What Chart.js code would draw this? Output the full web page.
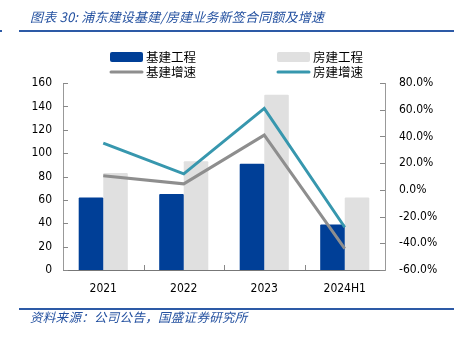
<!DOCTYPE html>
<html>
<head>
<meta charset="utf-8">
<script src="https://cdn.jsdelivr.net/npm/chart.js@4"></script>
<style>
  html, body { margin: 0; padding: 0; background: #fff; }
  #wrap { position: relative; width: 454px; height: 341px; overflow: hidden; }
  #chart { position: absolute; left: 0; top: 0; }
  .cap { position: absolute; left: 30px; white-space: nowrap; font-family: "Noto Sans CJK SC", sans-serif; font-style: italic; color: #2451a0; line-height: 18px; }
  #title { top: 8px; font-size: 13px; letter-spacing: 0.2px; }
  #source { top: 308px; font-size: 12.5px; letter-spacing: 0.3px; }
  .rule { position: absolute; left: 19px; right: 0; background: #2d5aa6; }
  #rule1 { top: 30px; height: 2px; }
  #rule2 { top: 308px; height: 2px; }
  #dot { position: absolute; left: 0; top: 30px; width: 2px; height: 2px; background: #2d5aa6; }
</style>
</head>
<body>
<div id="wrap">
  <canvas id="chart" width="454" height="341"></canvas>
  <div id="title" class="cap">图表 30: 浦东建设基建/房建业务新签合同额及增速</div>
  <div id="dot"></div>
  <div id="rule1" class="rule"></div>
  <div id="rule2" class="rule"></div>
  <div id="source" class="cap">资料来源：公司公告，国盛证券研究所</div>
</div>
<script>
// 新签合同额（亿元）与同比增速（%）
const categories = ['2021', '2022', '2023', '2024H1'];
const infraAmount = [62, 65, 91, 39];        // 基建工程
const buildingAmount = [83, 93, 150, 62];    // 房建工程
const infraGrowth = [10.5, 4.5, 41, -44];    // 基建增速
const buildingGrowth = [35, 12, 61, -28];    // 房建增速

const tickFont = { family: "'DejaVu Sans Condensed', 'Liberation Sans', sans-serif", size: 12 };

// 两列两行的图例
const gridLegend = {
  id: 'gridLegend',
  afterDraw(chart) {
    const ctx = chart.ctx;
    const cols = [110, 277];
    const rows = [57, 72];
    ctx.save();
    ctx.font = "12.5px 'Noto Sans CJK SC', sans-serif";
    ctx.textBaseline = 'middle';
    ctx.textAlign = 'left';
    chart.data.datasets.forEach((ds, i) => {
      const x = cols[i % 2], y = rows[Math.floor(i / 2)];
      if (ds.type === 'line') {
        ctx.strokeStyle = ds.borderColor;
        ctx.lineWidth = 3;
        ctx.lineCap = 'round';
        ctx.beginPath();
        ctx.moveTo(x + 1, y);
        ctx.lineTo(x + 32, y);
        ctx.stroke();
      } else {
        ctx.fillStyle = ds.backgroundColor;
        ctx.beginPath();
        ctx.roundRect(x, y - 5, 33, 10, 2);
        ctx.fill();
      }
      ctx.fillStyle = '#000';
      ctx.fillText(ds.label, x + 36, y + 0.5);
    });
    ctx.restore();
  }
};

// 向内的刻度线
const innerTicks = {
  id: 'innerTicks',
  afterDraw(chart) {
    const ctx = chart.ctx;
    const { x, y, y1 } = chart.scales;
    ctx.save();
    ctx.lineWidth = 1;
    ctx.strokeStyle = '#888';
    ctx.beginPath();
    y.ticks.forEach(t => {
      const py = Math.round(y.getPixelForValue(t.value)) + 0.5;
      ctx.moveTo(y.right, py); ctx.lineTo(y.right + 5, py);
    });
    y1.ticks.forEach(t => {
      const py = Math.round(y1.getPixelForValue(t.value)) + 0.5;
      ctx.moveTo(y1.left, py); ctx.lineTo(y1.left - 5, py);
    });
    for (let i = 0; i < categories.length - 1; i++) {
      const px = Math.round((x.getPixelForValue(i) + x.getPixelForValue(i + 1)) / 2) + 0.5;
      ctx.moveTo(px, x.top); ctx.lineTo(px, x.top - 5);
    }
    ctx.stroke();
    ctx.restore();
  }
};

new Chart(document.getElementById('chart'), {
  data: {
    labels: categories,
    datasets: [
      { type: 'bar', label: '基建工程', data: infraAmount, backgroundColor: '#003f97', yAxisID: 'y', order: 2,
        categoryPercentage: 0.61, barPercentage: 1.0, borderRadius: 1 },
      { type: 'bar', label: '房建工程', data: buildingAmount, backgroundColor: '#e0e0e0', yAxisID: 'y', order: 2,
        categoryPercentage: 0.61, barPercentage: 1.0, borderRadius: 1 },
      { type: 'line', label: '基建增速', data: infraGrowth, borderColor: '#8e8e8e', backgroundColor: '#8e8e8e',
        borderWidth: 3, pointRadius: 0, tension: 0, yAxisID: 'y1', order: 1 },
      { type: 'line', label: '房建增速', data: buildingGrowth, borderColor: '#3797ae', backgroundColor: '#3797ae',
        borderWidth: 3, pointRadius: 0, tension: 0, yAxisID: 'y1', order: 0 }
    ]
  },
  options: {
    responsive: false,
    animation: false,
    layout: { padding: { top: 83, left: 0, right: 0, bottom: 0 } },
    plugins: { legend: { display: false }, tooltip: { enabled: false }, title: { display: false } },
    scales: {
      x: {
        offset: true,
        grid: { display: false, drawTicks: false },
        border: { display: true, color: '#777', width: 1 },
        ticks: { color: '#000', font: tickFont, padding: 12, maxRotation: 0 },
        afterFit(s) { s.height = 71; }
      },
      y: {
        position: 'left',
        min: 0, max: 160,
        grid: { display: false, drawTicks: false },
        border: { display: true, color: '#999', width: 1 },
        ticks: { stepSize: 20, color: '#000', font: tickFont, padding: 11 },
        afterFit(s) { s.width = 63; }
      },
      y1: {
        position: 'right',
        min: -60, max: 80,
        grid: { display: false, drawTicks: false },
        border: { display: true, color: '#999', width: 1 },
        ticks: { stepSize: 20, color: '#000', font: tickFont, padding: 14,
          callback: v => v.toFixed(1) + '%' },
        afterFit(s) { s.width = 69; }
      }
    }
  },
  plugins: [gridLegend, innerTicks]
});
</script>
</body>
</html>
